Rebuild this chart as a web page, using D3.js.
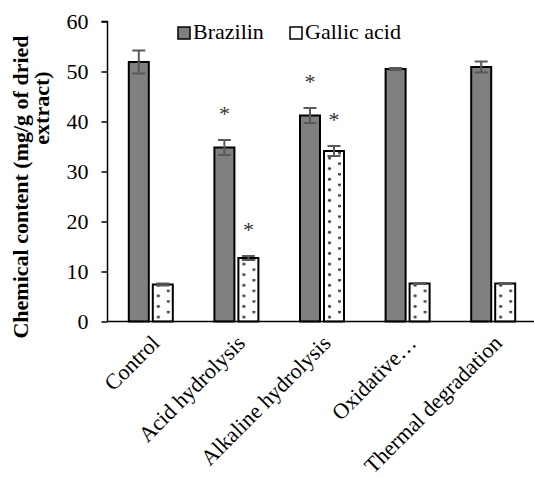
<!DOCTYPE html>
<html><head><meta charset="utf-8">
<script src="https://cdn.jsdelivr.net/npm/d3@7"></script>
<style>body{margin:0;background:#fff}</style>
</head><body>
<script>
const categories = ["Control","Acid hydrolysis","Alkaline hydrolysis","Oxidative\u2026","Thermal degradation"];
const seriesNames = ["Brazilin","Gallic acid"];
const brazilin = [51.9, 34.8, 41.2, 50.5, 50.9];
const brazilinErr = [2.3, 1.5, 1.5, 0.2, 1.1];
const gallic = [7.4, 12.7, 34.1, 7.6, 7.6];
const gallicErr = [0.2, 0.4, 1.0, 0.1, 0.1];
const brazilinSig = [false, true, true, false, false];
const gallicSig = [false, true, true, false, false];
const yTicks = [0,10,20,30,40,50,60];

const W = 534, H = 477;
const FONT = "'Liberation Serif','Times New Roman',serif";
const svg = d3.select("body").append("svg").attr("width", W).attr("height", H)
  .style("font-family", FONT);

const x = d3.scaleBand().domain(categories).range([108, 536]).paddingInner(0).paddingOuter(0);
const y = d3.scaleLinear().domain([0,60]).range([321.5, 21.5]);
const barW = 20, gap = 4;

const defs = svg.append("defs");
categories.forEach((c,i)=>{
  const bx = x(c) + x.bandwidth()/2 + gap/2;
  const p = defs.append("pattern").attr("id","dots"+i)
    .attr("patternUnits","userSpaceOnUse")
    .attr("x", bx).attr("y", y(0)).attr("width", 20).attr("height", 10.6);
  p.append("rect").attr("width",20).attr("height",10.6).attr("fill","#fff");
  p.append("circle").attr("cx",5.5).attr("cy",10.6-4.5).attr("r",1.6).attr("fill","#444");
  p.append("circle").attr("cx",15.5).attr("cy",10.6-9.6).attr("r",1.6).attr("fill","#444");
});

// y axis
const yAxis = svg.append("g").attr("transform","translate(107.5,0)")
  .call(d3.axisLeft(y).tickValues(yTicks).tickSize(6).tickPadding(13).tickFormat(d3.format("d")));
yAxis.select(".domain").attr("stroke","#000").attr("stroke-width",1.5).attr("d","M-6,"+y(60)+"H0V"+y(0));
yAxis.selectAll(".tick line").attr("stroke","#000").attr("stroke-width",1.5);
yAxis.selectAll(".tick text").attr("font-size",22).attr("fill","#000").style("font-family", FONT);

// bars
const g = svg.append("g");
categories.forEach((c,i)=>{
  const cx = x(c) + x.bandwidth()/2;
  g.append("rect").attr("x", cx - gap/2 - barW).attr("y", y(brazilin[i]))
    .attr("width", barW).attr("height", y(0)-y(brazilin[i]))
    .attr("fill","#808080").attr("stroke","#000").attr("stroke-width",2);
  g.append("rect").attr("x", cx + gap/2).attr("y", y(gallic[i]))
    .attr("width", barW).attr("height", y(0)-y(gallic[i]))
    .attr("fill","url(#dots"+i+")").attr("stroke","#000").attr("stroke-width",2);
});

// error bars + significance
function err(cx, v, e){
  const eg = g.append("g").attr("stroke","#595959").attr("stroke-width",2);
  eg.append("line").attr("x1",cx).attr("x2",cx).attr("y1",y(v+e)).attr("y2",y(v-e));
  eg.append("line").attr("x1",cx-6.5).attr("x2",cx+6.5).attr("y1",y(v+e)).attr("y2",y(v+e));
  eg.append("line").attr("x1",cx-6.5).attr("x2",cx+6.5).attr("y1",y(v-e)).attr("y2",y(v-e));
}
categories.forEach((c,i)=>{
  const cx = x(c) + x.bandwidth()/2;
  const bcx = cx - gap/2 - barW/2, gcx = cx + gap/2 + barW/2;
  err(bcx, brazilin[i], brazilinErr[i]);
  err(gcx, gallic[i], gallicErr[i]);
  if (brazilinSig[i]) svg.append("text").attr("x",bcx).attr("y",y(brazilin[i]+brazilinErr[i])-19)
    .attr("text-anchor","middle").attr("font-size",22).attr("fill","#333").text("*");
  if (gallicSig[i]) svg.append("text").attr("x",gcx).attr("y",y(gallic[i]+gallicErr[i])-19)
    .attr("text-anchor","middle").attr("font-size",22).attr("fill","#333").text("*");
});

// x axis
const xAxis = svg.append("g").attr("transform","translate(0,"+y(0)+")")
  .call(d3.axisBottom(x).tickSize(0).tickPadding(0));
xAxis.select(".domain").attr("stroke","#000").attr("stroke-width",1.5).attr("d","M107,0H536");
xAxis.selectAll(".tick text").attr("font-size",22).attr("fill","#000").style("font-family", FONT)
  .attr("text-anchor","end").attr("dy",0).attr("y",0)
  .attr("transform","translate(10,23) rotate(-45)");

// legend
const leg = svg.append("g");
const legX = [178, 290];
seriesNames.forEach((s,i)=>{
  leg.append("rect").attr("x",legX[i]).attr("y",27).attr("width",12).attr("height",12)
    .attr("fill", i===0 ? "#808080" : "#fff").attr("stroke","#000").attr("stroke-width",1.5);
  leg.append("text").attr("x",legX[i]+15).attr("y",39).attr("font-size",22).attr("fill","#000").text(s);
});

// y title (two lines)
const titleLines = ["Chemical content (mg/g of dried", "extract)"];
const titlePos = [[28,187],[48.5,108]];
titleLines.forEach((s,i)=>{
  svg.append("text").attr("font-weight","bold").attr("font-size",22).attr("fill","#000")
    .attr("text-anchor","middle")
    .attr("transform","translate("+titlePos[i][0]+","+titlePos[i][1]+") rotate(-90)").text(s);
});
</script>
</body></html>
